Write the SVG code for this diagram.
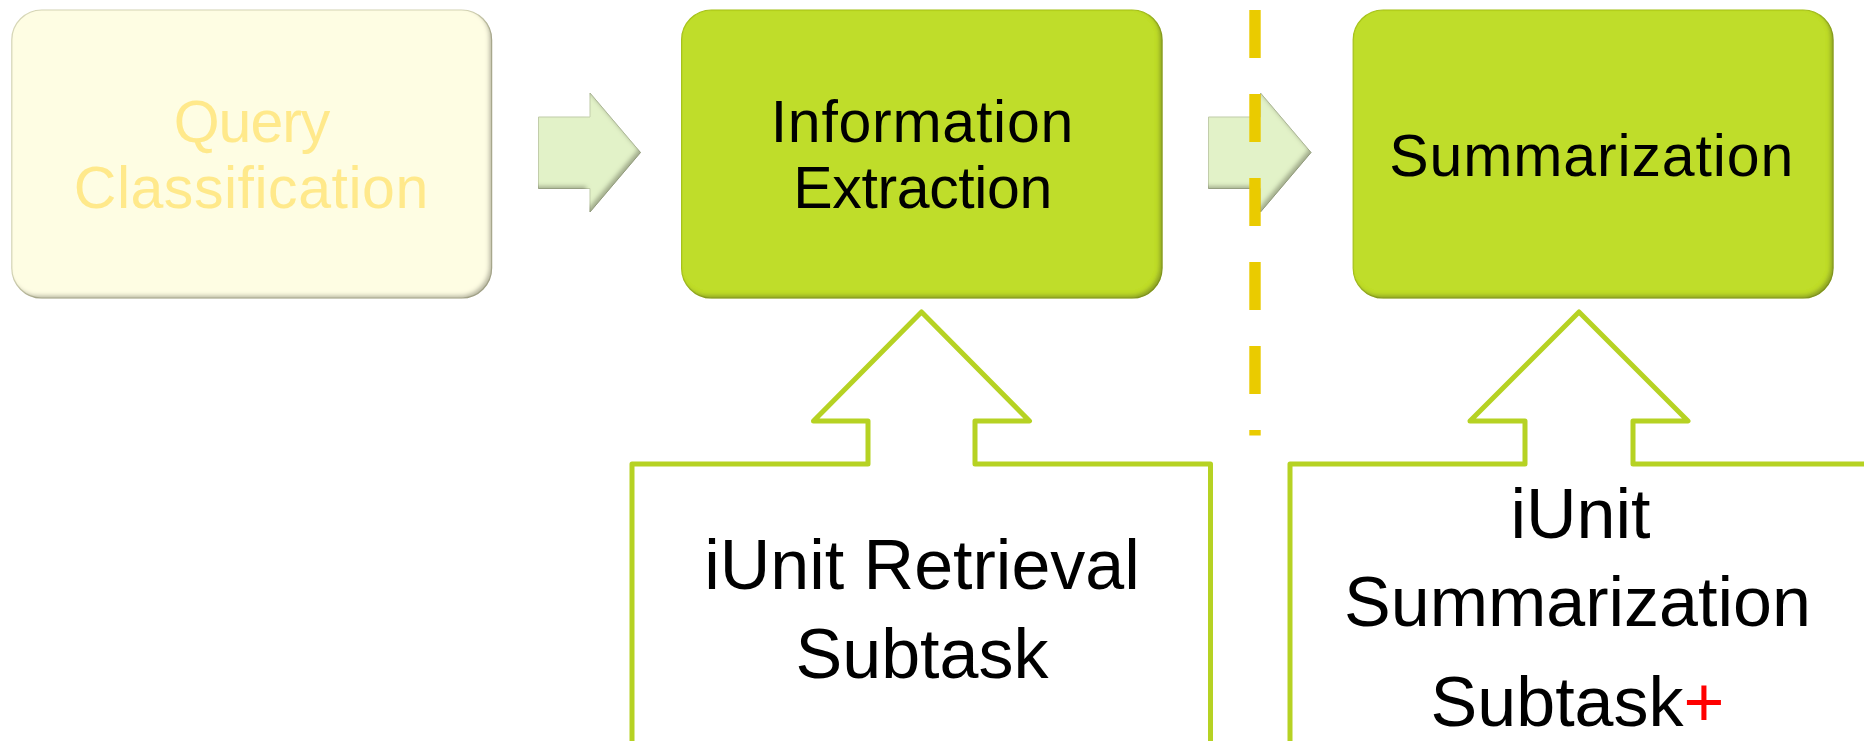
<svg xmlns="http://www.w3.org/2000/svg" width="1864" height="741" viewBox="0 0 1864 741">
  <defs>
    <filter id="bevel" x="-5%" y="-5%" width="110%" height="110%">
      <feGaussianBlur in="SourceAlpha" stdDeviation="2.2" result="b"/>
      <feOffset in="b" dx="-3" dy="-3" result="o"/>
      <feComposite in="SourceAlpha" in2="o" operator="out" result="edge"/>
      <feFlood flood-color="#3a3a20" flood-opacity="0.55"/>
      <feComposite in2="edge" operator="in" result="shadow"/>
      <feMerge>
        <feMergeNode in="SourceGraphic"/>
        <feMergeNode in="shadow"/>
      </feMerge>
    </filter>
    <style>
      .box { stroke-width: 1.2; filter: url(#bevel); }
      .pale { fill: #FEFDE3; stroke: #D8D8B8; }
      .lime { fill: #BFDD29; stroke: #A8C420; }
      .arrow { fill: #E2F2C8; stroke: #C4D0AC; stroke-width: 1; filter: url(#bevel); }
      .callout { fill: #FFFFFF; stroke: #B6D223; stroke-width: 5; stroke-linejoin: round; }
      .t { font-family: "Liberation Sans", Arial, sans-serif; text-anchor: middle; }
      .top { font-size: 59px; fill: #000000; }
      .faded { fill: #FFE98B; }
      .bottom { font-size: 70px; fill: #000000; }
      .divider { stroke: #EACB00; stroke-width: 11.4; stroke-dasharray: 48 36; fill: none; }
    </style>
  </defs>

  <g id="connectors">
    <path id="arrow-1" class="arrow" d="M538.5 117 L590 117 L590 93 L640.5 152.5 L590 212 L590 188.5 L538.5 188.5 Z"/>
    <path id="arrow-2" class="arrow" d="M1208.5 117 L1260.5 117 L1260.5 93 L1311 152.5 L1260.5 212 L1260.5 188.5 L1208.5 188.5 Z"/>
    <line id="divider" class="divider" x1="1255" y1="10" x2="1255" y2="435.5"/>
  </g>

  <g id="node-query">
    <rect class="box pale" x="11.8" y="10" width="479.8" height="288" rx="30" ry="30"/>
    <text class="t top faded" x="252" y="141.7" textLength="156.6">Query</text>
    <text class="t top faded" x="251" y="208.3" textLength="354.5">Classification</text>
  </g>

  <g id="node-extraction">
    <rect class="box lime" x="681.6" y="10" width="480.4" height="288" rx="30" ry="30"/>
    <text class="t top" x="922" y="141.7" textLength="302.6">Information</text>
    <text class="t top" x="922.8" y="208.3" textLength="259">Extraction</text>
  </g>

  <g id="node-summarization">
    <rect class="box lime" x="1353.2" y="10" width="479.8" height="288" rx="30" ry="30"/>
    <text class="t top" x="1591.3" y="175.5" textLength="404">Summarization</text>
  </g>

  <g id="node-retrieval-subtask">
    <path class="callout" d="M632 760 L632 464 L868 464 L868 421 L813.5 421 L921.5 312 L1029.5 421 L975 421 L975 464 L1210.5 464 L1210.5 760"/>
    <text class="t bottom" x="922" y="589.3">iUnit Retrieval</text>
    <text class="t bottom" x="922" y="677.7">Subtask</text>
  </g>

  <g id="node-summarization-subtask">
    <path class="callout" d="M1290 760 L1290 464 L1525 464 L1525 421 L1470 421 L1579 312 L1688 421 L1633 421 L1633 464 L1880 464 L1880 760"/>
    <text class="t bottom" x="1580.5" y="538.3">iUnit</text>
    <text class="t bottom" x="1577.5" y="626">Summarization</text>
    <text class="t bottom" x="1577.5" y="725.5">Subtask<tspan fill="#FF0000">+</tspan></text>
  </g>
</svg>
